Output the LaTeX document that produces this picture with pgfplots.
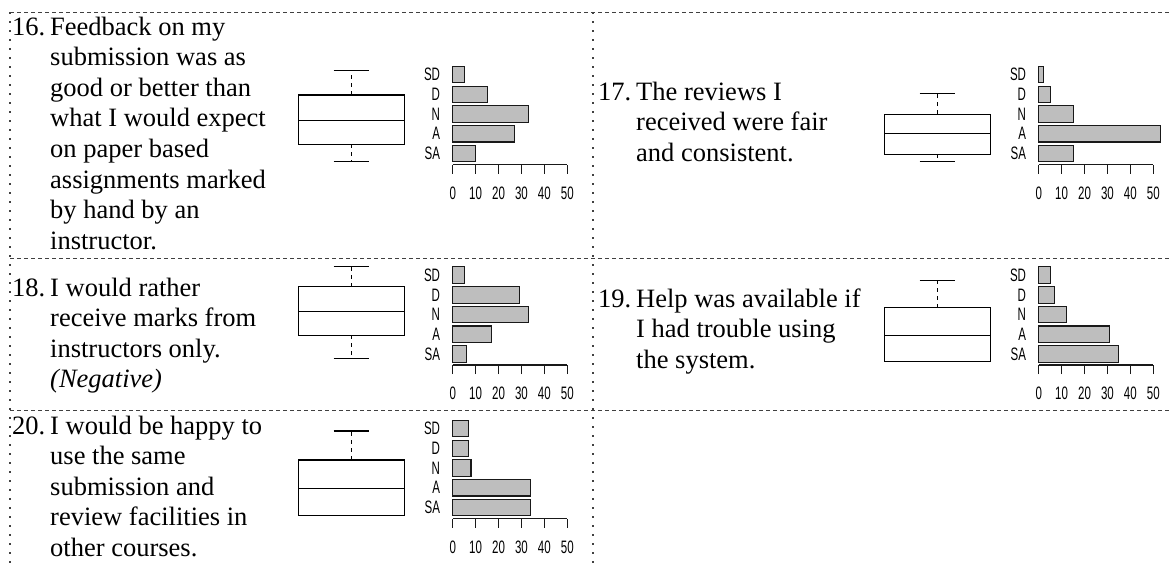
\documentclass[border=0pt]{standalone}
\usepackage{fontspec}
\setmainfont{Liberation Serif}
\newfontfamily\rsans[FakeStretch=0.64]{Liberation Sans}
\usepackage{pgfplots}
\pgfplotsset{compat=1.18}
\usepgfplotslibrary{statistics}

\definecolor{barfill}{HTML}{BEBEBE}
\definecolor{framec}{HTML}{404040}

\pgfplotsset{
  likbar/.style={
    scale only axis, width=114.6pt, height=99.7pt,
    xmin=0, xmax=50, ymin=0.5, ymax=5.56, y dir=reverse,
    clip=false, anchor=south west,
    /pgf/number format/assume math mode=true,
    axis x line*=bottom, axis y line*=left,
    y axis line style={draw=none},
    ytick={1,2,3,4,5}, yticklabels={SD,D,N,A,SA},
    ytick style={draw=none},
    xtick={0,10,20,30,40,50},
    tick align=outside, major tick length=9pt,
    x axis line style={line width=1.1pt, black!90},
    xtick style={line width=1.1pt, black!90},
    tick label style={font=\rsans\fontsize{18}{18}\selectfont, inner sep=0pt},
    xticklabel style={anchor=center, yshift=-19.5pt},
    yticklabel style={anchor=east, xshift=-3.5pt},
  },
  likbox/.style={
    scale only axis, width=212pt, height=99.7pt,
    xmin=0, xmax=2, ymin=0.5, ymax=5.56, y dir=reverse,
    hide axis, clip=false, anchor=south west,
    boxplot/draw direction=y,
    boxplot/box extend=1,
    boxplot/whisker extend=0.333,
    boxplot/draw/lower whisker/.code={%
      \draw[dash pattern=on 4pt off 4pt]
        (boxplot box cs:\pgfplotsboxplotvalue{lower quartile},0.5) --
        (boxplot box cs:\pgfplotsboxplotvalue{lower whisker},0.5);
      \draw (boxplot whisker cs:\pgfplotsboxplotvalue{lower whisker},0) --
        (boxplot whisker cs:\pgfplotsboxplotvalue{lower whisker},1);
    },
    boxplot/draw/upper whisker/.code={%
      \draw[dash pattern=on 4pt off 4pt]
        (boxplot box cs:\pgfplotsboxplotvalue{upper quartile},0.5) --
        (boxplot box cs:\pgfplotsboxplotvalue{upper whisker},0.5);
      \draw (boxplot whisker cs:\pgfplotsboxplotvalue{upper whisker},0) --
        (boxplot whisker cs:\pgfplotsboxplotvalue{upper whisker},1);
    },
  },
  barst/.style={xbar, bar width=0.84, fill=barfill, draw=black!90, line width=1.1pt},
  boxst/.style={black, line width=1.1pt, solid},
}

% multi-line nodes: base anchor = baseline of the LAST line
\tikzset{qtext/.style={anchor=base west, inner sep=0pt, align=left,
  font=\fontsize{26.5}{30.6}\selectfont}}

\begin{document}
\begin{tikzpicture}
\begin{scope}[x=1pt, y=-1pt]
\useasboundingbox (0,0) rectangle (1172,563);
% frame lines
\draw[framec, line width=1pt, dash pattern=on 4pt off 3pt] (10,12) -- (1172,12);
\draw[framec, line width=1pt, dash pattern=on 4pt off 3pt] (10,258) -- (1172,258);
\draw[framec, line width=1pt, dash pattern=on 4pt off 3pt] (10,410) -- (1172,410);
\draw[framec, line width=1.2pt, dash pattern=on 1.5pt off 7.5pt] (10,12) -- (10,563);
\draw[framec, line width=1.2pt, dash pattern=on 1.5pt off 7.5pt] (593,12) -- (593,563);
% question texts
\node[qtext] at (12,35) {16.};
\node[qtext] at (50,249.2) {Feedback on my\\submission was as\\good or better than\\what I would expect\\on paper based\\assignments marked\\by hand by an\\instructor.};
\node[qtext] at (598,100.3) {17.};
\node[qtext] at (636,161.5) {The reviews I\\received were fair\\and consistent.};
\node[qtext] at (12,296) {18.};
\node[qtext] at (50,387.8) {I would rather\\receive marks from\\instructors only.\\\textit{(Negative)}};
\node[qtext] at (598,307) {19.};
\node[qtext] at (636,368.2) {Help was available if\\I had trouble using\\the system.};
\node[qtext] at (12,434) {20.};
\node[qtext] at (50,556.4) {I would be happy to\\use the same\\submission and\\review facilities in\\other courses.};
\end{scope}

% ---------- Q16 ----------
\begin{axis}[likbox, at={(245.3pt,-164.5pt)}]
\addplot[boxst, boxplot prepared={draw position=1, lower whisker=0.78, lower quartile=2.03, median=3.32, upper quartile=4.54, upper whisker=5.43}] coordinates {};
\end{axis}
\begin{axis}[likbar, at={(452.7pt,-164.5pt)}]
\addplot[barst] coordinates {(5,1) (15,2) (33,3) (27,4) (10,5)};
\end{axis}

% ---------- Q17 ----------
\begin{axis}[likbox, at={(831.3pt,-164.5pt)}]
\addplot[boxst, boxplot prepared={draw position=1, lower whisker=1.95, lower quartile=3.00, median=3.98, upper quartile=5.03, upper whisker=5.43}] coordinates {};
\end{axis}
\begin{axis}[likbar, at={(1038.7pt,-164.5pt)}]
\addplot[barst] coordinates {(2,1) (5,2) (15,3) (53,4) (15,5)};
\end{axis}

% ---------- Q18 ----------
\begin{axis}[likbox, at={(245.3pt,-365pt)}]
\addplot[boxst, boxplot prepared={draw position=1, lower whisker=0.54, lower quartile=1.59, median=2.85, upper quartile=4.04, upper whisker=5.22}] coordinates {};
\end{axis}
\begin{axis}[likbar, at={(452.7pt,-365pt)}]
\addplot[barst] coordinates {(5,1) (29,2) (33,3) (17,4) (6,5)};
\end{axis}

% ---------- Q19 ----------
\begin{axis}[likbox, at={(831.3pt,-365pt)}]
\addplot[boxst, boxplot prepared={draw position=1, lower whisker=1.25, lower quartile=2.65, median=4.07, upper quartile=5.39, upper whisker=5.39}] coordinates {};
\end{axis}
\begin{axis}[likbar, at={(1038.7pt,-365pt)}]
\addplot[barst] coordinates {(5,1) (7,2) (12,3) (31,4) (35,5)};
\end{axis}

% ---------- Q20 ----------
\begin{axis}[likbox, at={(245.3pt,-518.5pt)}]
\addplot[boxst, boxplot prepared={draw position=1, lower whisker=1.12, lower quartile=2.59, median=4.05, upper quartile=5.40, upper whisker=5.40}] coordinates {};
\end{axis}
\begin{axis}[likbar, at={(452.7pt,-518.5pt)}]
\addplot[barst] coordinates {(7,1) (7,2) (8,3) (34,4) (34,5)};
\end{axis}
\end{tikzpicture}
\end{document}
